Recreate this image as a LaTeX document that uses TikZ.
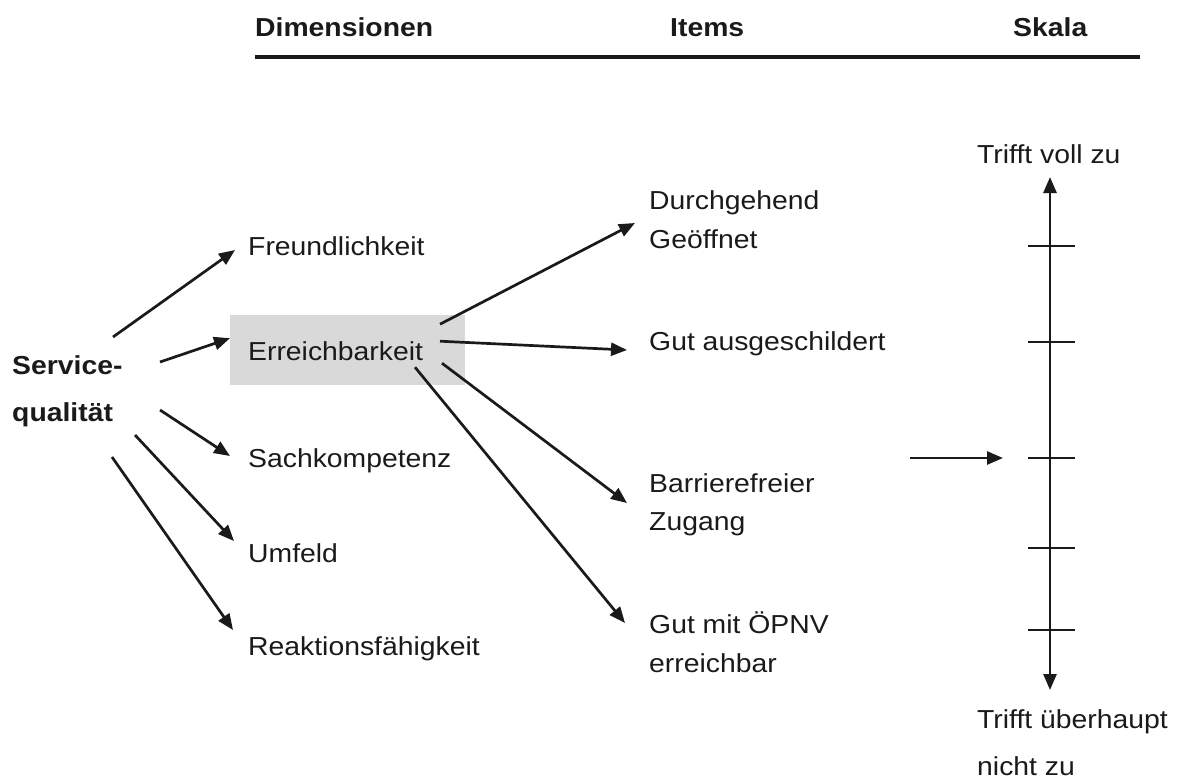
\documentclass[tikz,border=0pt]{standalone}
\usepackage{fontspec}
\setmainfont{Liberation Sans}[FakeStretch=1.09]
\usetikzlibrary{arrows.meta}
\definecolor{boxgray}{HTML}{D9D9D9}
\definecolor{ink}{HTML}{1A1A1A}
\tikzset{
  lbl/.style={anchor=base west, inner sep=0pt, text=ink, font=\fontsize{26}{30}\selectfont},
  hdr/.style={lbl, font=\fontsize{26}{30}\selectfont\bfseries},
  arr/.style={line width=2.7pt, draw=ink, -{Triangle[length=16pt,width=13pt]}},
  scl/.style={line width=2.7pt, draw=ink},
}
\begin{document}
\begin{tikzpicture}[x=1pt,y=-1pt]
\useasboundingbox (0,0) rectangle (1183,780);
% headers
\node[hdr] (hdim) at (255,36) {Dimensionen};
\node[hdr] (hitems) at (670,36) {Items};
\node[hdr] (hskala) at (1013,36) {Skala};
\draw[line width=3.2pt, draw=ink] (255,57) -- (1140,57);
% root
\node[hdr] (serv1) at (12,374) {Service-};
\node[hdr] (serv2) at (12,421) {qualität};
% dimensions
\node[lbl] (freund) at (248,255) {Freundlichkeit};
\node[fill=boxgray, anchor=north west, inner ysep=0pt, inner xsep=18pt,
      minimum width=235pt, minimum height=70pt, text width=199pt, align=left,
      text height=10pt, text depth=10pt, text=ink,
      font=\fontsize{26}{30}\selectfont] (erreich) at (230,315) {\raisebox{-10pt}{Erreichbarkeit}};
\node[lbl] (sach) at (248,467) {Sachkompetenz};
\node[lbl] (umf) at (248,562) {Umfeld};
\node[lbl] (reak) at (248,655) {Reaktionsfähigkeit};
% items
\node[lbl] (dur1) at (649,209) {Durchgehend};
\node[lbl] (dur2) at (649,248) {Geöffnet};
\node[lbl] (gut) at (649,350) {Gut ausgeschildert};
\node[lbl] (bar1) at (649,492) {Barrierefreier};
\node[lbl] (bar2) at (649,530) {Zugang};
\node[lbl] (oep1) at (649,633) {Gut mit ÖPNV};
\node[lbl] (oep2) at (649,672) {erreichbar};
% scale labels
\node[lbl] (top) at (977,163) {Trifft voll zu};
\node[lbl] (bot1) at (977,728) {Trifft überhaupt};
\node[lbl] (bot2) at (977,775) {nicht zu};
% arrows from root
\draw[arr] ([shift={(101,-37)}]serv1.base west) -- ([shift={(-13,-5)}]freund.base west);
\draw[arr] ([shift={(148,-12)}]serv1.base west) -- ([shift={(0,-12)}]erreich.west);
\draw[arr] ([shift={(148,-11)}]serv2.base west) -- ([shift={(-18,-11)}]sach.base west);
\draw[arr] ([shift={(123,14)}]serv2.base west) -- ([shift={(-14,-21)}]umf.base west);
\draw[arr] ([shift={(100,36)}]serv2.base west) -- ([shift={(-15,-25)}]reak.base west);
% arrows from Erreichbarkeit
\draw[arr] ([shift={(210,-26)}]erreich.west) -- ([shift={(-14,14)}]dur1.base west);
\draw[arr] ([shift={(210,-9)}]erreich.west) -- ([shift={(-22,0)}]gut.base west);
\draw[arr] ([shift={(212,13)}]erreich.west) -- ([shift={(-22,11)}]bar1.base west);
\draw[arr] ([shift={(185,17)}]erreich.west) -- ([shift={(-24,-10)}]oep1.base west);
% scale
\coordinate (stop) at (1050,177);
\coordinate (sbot) at (1050,690);
\draw[scl, {Triangle[length=16pt,width=13pt]}-{Triangle[length=16pt,width=13pt]}] (sbot) -- (stop);
\foreach \yy in {246,342,458,548,630}{
  \draw[scl] (1028,\yy) -- (1075,\yy);
}
\coordinate (pin) at (910,458);
\coordinate (pout) at (1003,458);
\draw[arr] (pin) -- (pout);
\end{tikzpicture}
\end{document}
